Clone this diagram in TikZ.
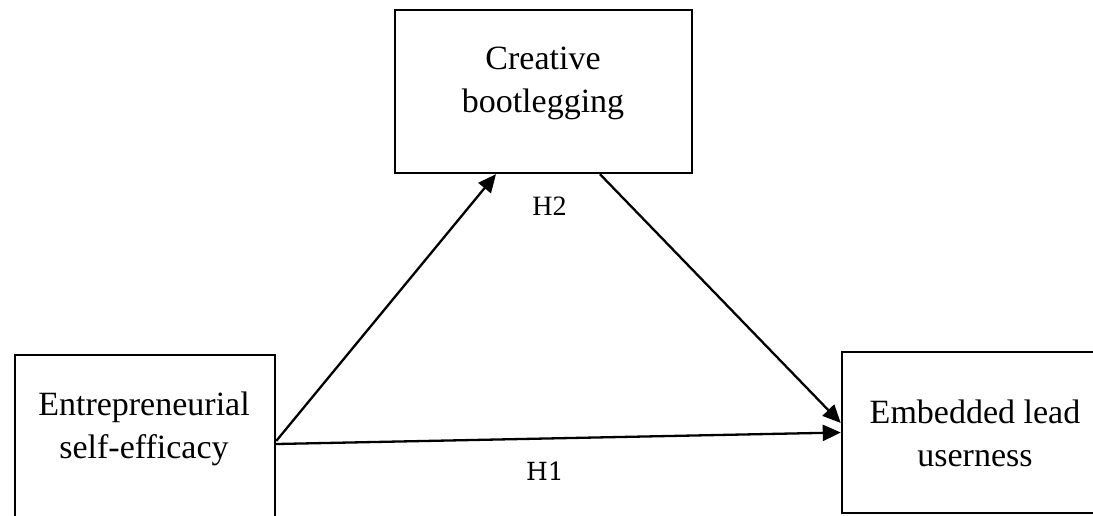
\documentclass[tikz,border=0pt]{standalone}
\usepackage{fontspec}
\setmainfont{Liberation Serif}
\newfontfamily\slabfont{DejaVu Serif}
\usetikzlibrary{arrows.meta}

\tikzset{
  box/.style={draw, line width=2.4pt, inner sep=0pt},
  boxtext/.style={anchor=north, align=center, inner sep=0pt,
    font=\fontsize{34}{43}\selectfont},
  arr/.style={line width=2.3pt, -{Triangle[length=18pt,width=16pt]}},
  hyp/.style={anchor=base, inner sep=0pt, font=\fontsize{28}{32}\selectfont}
}

\begin{document}
\begin{tikzpicture}[x=1pt, y=-1pt]
  \useasboundingbox (0,0) rectangle (1093,515);

  % constructs
  \node[box, minimum width=260pt, minimum height=180pt] (es) at (145,445) {};
  \node[box, minimum width=297pt, minimum height=163pt] (cb) at (543.5,91.5) {};
  \node[box, minimum width=268pt, minimum height=161pt] (elu) at (976,432.5) {};

  \node[boxtext] (es-t) at (144,391.5) {Entrepreneurial\\self-efficacy};
  \node[boxtext] (cb-t) at (543,47) {Creative\\bootlegging};
  \node[boxtext] (elu-t) at (975,400) {Embedded lead\\userness};

  % hypothesised paths
  \draw[arr] ([yshift=4pt]es.east) -- ([xshift=-47.5pt]cb.south);
  \draw[arr] ([xshift=56.5pt]cb.south) -- ([yshift=9.5pt]elu.west);
  \draw[arr] ([yshift=1pt]es.east) -- (elu.west);

  \node[hyp] (h2) at (549.5,215) {H2};
  \node[hyp, font=\slabfont\fontsize{25}{30}\selectfont] (h1) at (545,480) {H1};
\end{tikzpicture}
\end{document}
